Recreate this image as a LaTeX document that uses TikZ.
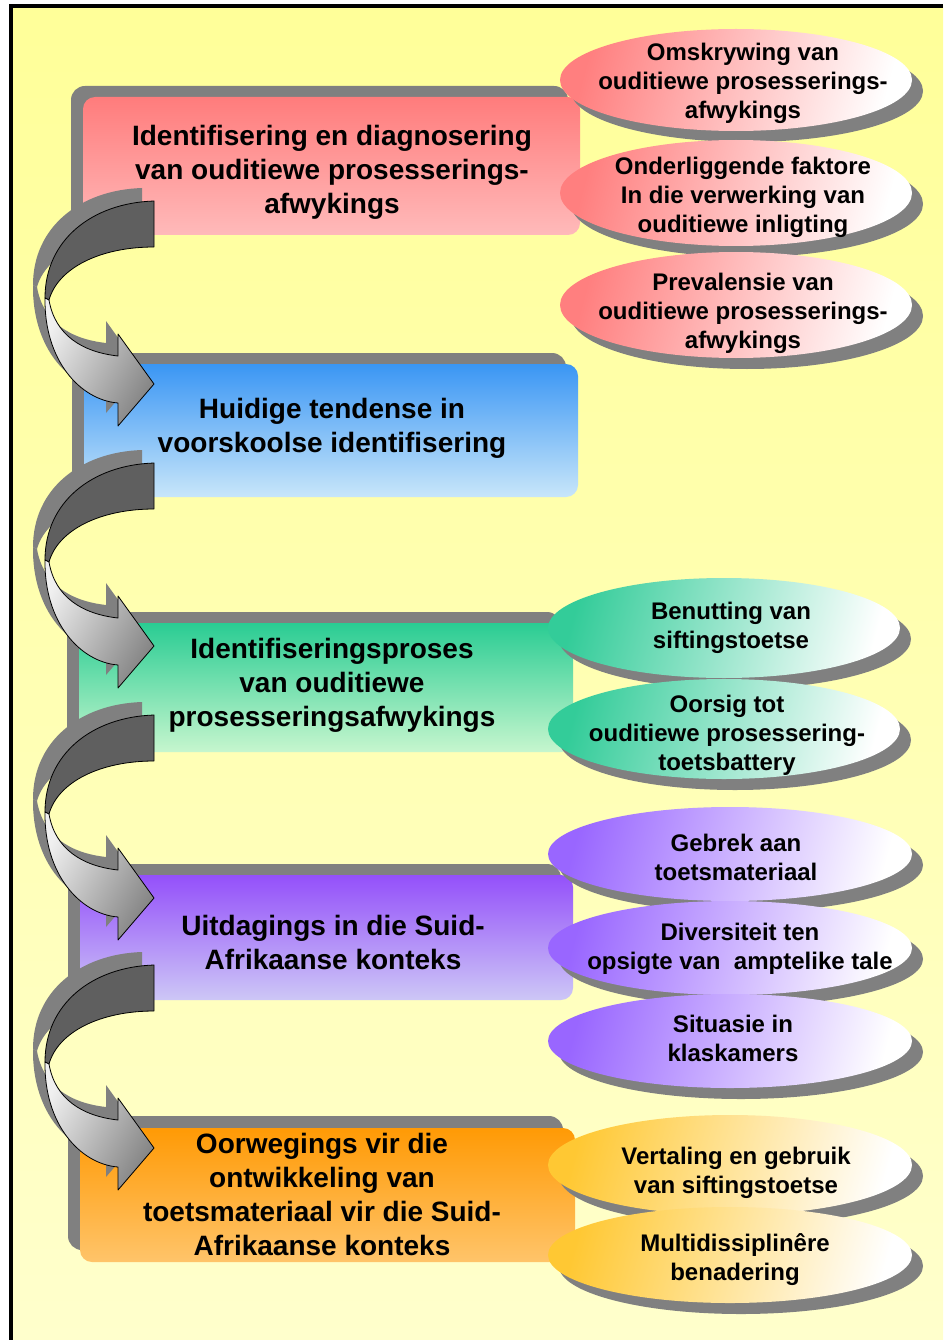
\documentclass[tikz,border=0pt]{standalone}
\usepackage{fontspec}
\setmainfont{Liberation Sans}
\usetikzlibrary{shapes.geometric}
\definecolor{bgtop}{HTML}{FFFF99}
\definecolor{bgbot}{HTML}{FFFFCC}
\definecolor{shgray}{HTML}{808080}
\definecolor{redtop}{HTML}{FF7C7C}
\definecolor{redbot}{HTML}{FFBABA}
\definecolor{bluetop}{HTML}{3A96F4}
\definecolor{bluebot}{HTML}{C8E6FA}
\definecolor{greentop}{HTML}{2ACC93}
\definecolor{greenbot}{HTML}{C6F6CE}
\definecolor{purptop}{HTML}{9450FA}
\definecolor{purpbot}{HTML}{CDC7F6}
\definecolor{orgtop}{HTML}{FF9A05}
\definecolor{orgbot}{HTML}{FFC46A}
\definecolor{ovred}{HTML}{FF7F7F}
\definecolor{ovgreen}{HTML}{33CC99}
\definecolor{ovpurp}{HTML}{9966FF}
\definecolor{ovorg}{HTML}{FFC833}
\definecolor{arrdarkc}{HTML}{5F5F5F}
\begin{document}
\begin{tikzpicture}[x=1pt,y=-1pt,
  boxsh/.style={fill=shgray, rounded corners=14pt},
  mainbox/.style={rectangle, rounded corners=12pt, draw=none, inner sep=0pt},
  boxtxt/.style={font=\fontsize{28}{34}\selectfont\bfseries, align=center, inner sep=0pt},
  ovalsh/.style={fill=shgray},
  ovaltxt/.style={font=\fontsize{24}{29}\selectfont\bfseries, align=center, inner sep=0pt},
  arrsh/.style={fill=shgray},
  arrdark/.style={fill=arrdarkc, draw=black, line width=0.8pt, line join=round},
  arrlight/.style={left color=black!6, right color=black!48, shading angle=60, draw=black, line width=0.8pt, line join=round}
]
\useasboundingbox (0,0) rectangle (943,1340);
% background and frame
\shade[top color=bgtop, bottom color=bgbot] (11,6) rectangle (943,1340);
\draw[line width=4pt] (11,1340) -- (11,6) -- (943,6);

% macros
\newcommand{\darkpart}[1]{\path[#1] (154,201) .. controls (92,203) and (45,240) .. (45,298) -- (49,300) .. controls (58,268) and (100,247) .. (154,247) -- cycle;}
\newcommand{\lightpart}[1]{\path[#1] (45,298) .. controls (44,360) and (80,400) .. (118,403) -- (118,426) -- (154,384) -- (118,334) -- (118,356) .. controls (82,352) and (55,335) .. (49,300) -- cycle;}
\newcommand{\bendarrow}[1]{%
  \begin{scope}[shift={(0,#1)}]
    \begin{scope}[shift={(-12,-13)}]
      \darkpart{arrsh}\lightpart{arrsh}
    \end{scope}
    \darkpart{arrdark}
    \lightpart{arrlight}
  \end{scope}}
\newcommand{\ovalnode}[9]{% name, cx, cy, rx, ry, colour, tx, ty, text
  \fill[ovalsh] (#2+11,#3+11) ellipse [x radius=#4, y radius=#5];
  \node[ellipse, draw=none, inner sep=0pt, minimum width=2*#4pt, minimum height=2*#5pt,
        left color=#6, middle color=#6!35, right color=white, shading angle=75] (#1) at (#2,#3) {};
  \node[ovaltxt] (#1t) at (#7,#8+2) {#9};}

% boxes
\fill[boxsh] (71,86) rectangle (568,224);
\node[mainbox, top color=redtop, bottom color=redbot, minimum width=497pt, minimum height=138pt] (b1) at (331.5,166) {};
\node[boxtxt] (t1) at (332,172) {Identifisering en diagnosering\\van ouditiewe prosesserings-\\afwykings};

\fill[boxsh] (72,353) rectangle (566,486);
\node[mainbox, top color=bluetop, bottom color=bluebot, minimum width=494pt, minimum height=133pt] (b2) at (331,430.5) {};
\node[boxtxt] (t2) at (332,428) {Huidige tendense in\\voorskoolse identifisering};

\fill[boxsh] (67,612) rectangle (561,741);
\node[mainbox, top color=greentop, bottom color=greenbot, minimum width=494pt, minimum height=129pt] (b3) at (326,687.5) {};
\node[boxtxt] (t3) at (332,685) {Identifiseringsproses\\van ouditiewe\\prosesseringsafwykings};

\fill[boxsh] (68,864) rectangle (561,989);
\node[mainbox, top color=purptop, bottom color=purpbot, minimum width=493pt, minimum height=125pt] (b4) at (326.5,937.5) {};
\node[boxtxt] (t4) at (333,942) {Uitdagings in die Suid-\\Afrikaanse konteks};

\fill[boxsh] (68,1116) rectangle (563,1250);
\node[mainbox, top color=orgtop, bottom color=orgbot, minimum width=495pt, minimum height=134pt] (b5) at (327.5,1195) {};
\node[boxtxt] (t5) at (322,1194) {Oorwegings vir die\\ontwikkeling van\\toetsmateriaal vir die Suid-\\Afrikaanse konteks};

% curved arrows
\bendarrow{0}
\bendarrow{262}
\bendarrow{514}
\bendarrow{764}

% ovals
\ovalnode{e1}{736}{80}{176}{51}{ovred}{743}{81}{Omskrywing van\\ouditiewe prosesserings-\\afwykings}
\ovalnode{e2}{736}{193}{176}{53}{ovred}{743}{195}{Onderliggende faktore\\In die verwerking van\\ouditiewe inligting}
\ovalnode{e3}{736}{305}{176}{53}{ovred}{743}{311}{Prevalensie van\\ouditiewe prosesserings-\\afwykings}

\ovalnode{g1}{724}{628}{176}{50}{ovgreen}{731}{626}{Benutting van\\siftingstoetse}
\ovalnode{g2}{724}{729}{176}{50}{ovgreen}{727}{733}{Oorsig tot\\ouditiewe prosessering-\\toetsbattery}

\ovalnode{p1}{730}{854}{182}{47}{ovpurp}{736}{855}{Gebrek aan\\toetsmateriaal}
\ovalnode{p2}{730}{948}{182}{47}{ovpurp}{740}{946.5}{Diversiteit ten\\opsigte van\ \ amptelike tale}
\ovalnode{p3}{730}{1041}{182}{47}{ovpurp}{733}{1036}{Situasie in\\klaskamers}

\ovalnode{o1}{730}{1165}{182}{50}{ovorg}{736}{1171}{Vertaling en gebruik\\van siftingstoetse}
\ovalnode{o2}{730}{1255}{182}{48}{ovorg}{735}{1258}{Multidissiplinêre\\benadering}
\end{tikzpicture}
\end{document}
